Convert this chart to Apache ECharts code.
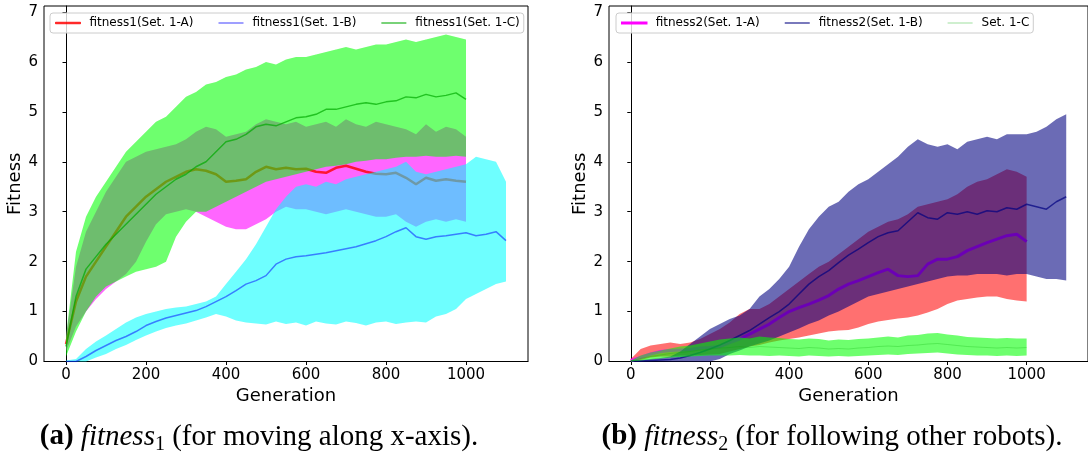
<!DOCTYPE html>
<html>
<head>
<meta charset="utf-8">
<script src="https://cdn.jsdelivr.net/npm/echarts@6/dist/echarts.min.js"></script>
<style>
  html, body { margin: 0; padding: 0; background: #fff; }
  #chart { width: 1088px; height: 462px; }
</style>
</head>
<body>
<div id="chart"></div>
<script>
// Generations sampled every 25 steps
const gens1000 = [0,25,50,75,100,125,150,175,200,225,250,275,300,325,350,375,400,425,450,475,500,525,550,575,600,625,650,675,700,725,750,775,800,825,850,875,900,925,950,975,1000];
const gens1100 = [0,25,50,75,100,125,150,175,200,225,250,275,300,325,350,375,400,425,450,475,500,525,550,575,600,625,650,675,700,725,750,775,800,825,850,875,900,925,950,975,1000,1025,1050,1075,1100];

const xTicks = [0, 200, 400, 600, 800, 1000];
const yTicks = [0, 1, 2, 3, 4, 5, 6, 7];

// fitness1 — Set. 1-A
const f1A_mean = [0.35,1.2,1.7,2.0,2.3,2.6,2.9,3.1,3.3,3.45,3.6,3.7,3.8,3.85,3.82,3.75,3.6,3.62,3.65,3.8,3.9,3.85,3.88,3.85,3.86,3.8,3.78,3.88,3.92,3.86,3.8,3.76,3.75,3.78,3.68,3.55,3.68,3.62,3.65,3.62,3.6];
const f1A_low  = [0.2,0.7,1.0,1.25,1.45,1.6,1.75,2.0,2.4,2.75,2.95,3.0,3.05,3.0,2.9,2.8,2.7,2.65,2.65,2.75,2.85,3.0,3.1,3.05,3.05,3.0,2.95,3.0,3.05,3.0,2.95,2.9,2.9,2.95,2.8,2.7,2.8,2.85,2.8,2.85,2.8];
const f1A_up   = [0.5,1.9,2.6,3.0,3.4,3.7,4.0,4.1,4.2,4.25,4.3,4.35,4.45,4.6,4.7,4.65,4.5,4.55,4.6,4.75,4.85,4.8,4.75,4.8,4.7,4.75,4.8,4.7,4.85,4.75,4.7,4.8,4.75,4.7,4.65,4.55,4.75,4.6,4.7,4.65,4.5];

// fitness1 — Set. 1-B
const f1B_mean = [0.0,0.0,0.1,0.22,0.32,0.42,0.5,0.6,0.72,0.8,0.87,0.92,0.97,1.02,1.1,1.2,1.3,1.42,1.55,1.62,1.72,1.95,2.05,2.1,2.12,2.15,2.18,2.22,2.26,2.3,2.36,2.42,2.5,2.6,2.68,2.5,2.45,2.5,2.52,2.55,2.58,2.52,2.55,2.6,2.42];
const f1B_low  = [0,0,0,0.08,0.15,0.25,0.33,0.43,0.52,0.6,0.67,0.72,0.76,0.82,0.88,0.95,0.9,0.82,0.78,0.76,0.74,0.8,0.75,0.78,0.72,0.8,0.76,0.74,0.8,0.77,0.72,0.78,0.8,0.75,0.78,0.8,0.78,0.9,0.95,1.05,1.25,1.35,1.45,1.55,1.6];
const f1B_up   = [0.02,0.05,0.25,0.4,0.52,0.65,0.78,0.88,0.95,1.0,1.05,1.08,1.1,1.15,1.2,1.3,1.55,1.8,2.05,2.35,2.7,3.05,3.3,3.5,3.55,3.5,3.6,3.55,3.65,3.7,3.75,3.8,3.85,3.9,4.0,3.8,3.75,3.8,3.85,3.9,3.95,4.1,4.05,4.0,3.6];

// fitness1 — Set. 1-C
const f1C_mean = [0.3,1.3,1.85,2.1,2.35,2.55,2.75,2.95,3.15,3.35,3.5,3.65,3.75,3.9,4.0,4.2,4.4,4.45,4.55,4.7,4.75,4.72,4.8,4.88,4.9,4.95,5.05,5.05,5.1,5.15,5.18,5.15,5.2,5.22,5.3,5.28,5.35,5.3,5.33,5.38,5.25];
const f1C_low  = [0.1,0.6,1.0,1.3,1.5,1.6,1.7,1.8,1.85,1.9,2.0,2.5,2.8,3.0,3.0,3.1,3.2,3.3,3.4,3.5,3.6,3.65,3.7,3.75,3.8,3.85,3.9,3.92,3.95,4.0,4.02,4.05,4.05,4.08,4.1,4.1,4.12,4.1,4.1,4.12,4.1];
const f1C_up   = [0.5,2.2,2.9,3.3,3.6,3.9,4.2,4.4,4.6,4.8,4.9,5.1,5.3,5.4,5.55,5.6,5.7,5.75,5.85,5.9,6.0,5.95,6.05,6.1,6.1,6.15,6.2,6.25,6.3,6.25,6.3,6.35,6.35,6.4,6.45,6.4,6.45,6.5,6.55,6.5,6.45];

// fitness2 — Set. 1-A
const f2A_mean = [0.02,0.08,0.15,0.2,0.22,0.23,0.24,0.27,0.28,0.3,0.38,0.45,0.55,0.65,0.75,0.88,1.0,1.08,1.15,1.23,1.32,1.45,1.55,1.62,1.7,1.78,1.85,1.72,1.7,1.72,1.95,2.05,2.05,2.1,2.22,2.3,2.38,2.45,2.52,2.55,2.4];
const f2A_low  = [0.0,0.03,0.08,0.1,0.1,0.12,0.12,0.13,0.14,0.15,0.2,0.25,0.3,0.33,0.38,0.42,0.45,0.48,0.52,0.56,0.6,0.62,0.63,0.68,0.75,0.8,0.83,0.86,0.88,0.92,0.98,1.05,1.15,1.22,1.25,1.28,1.3,1.3,1.25,1.22,1.2];
const f2A_up   = [0.05,0.25,0.32,0.35,0.38,0.35,0.38,0.45,0.55,0.65,0.78,0.95,1.05,1.05,1.15,1.3,1.45,1.6,1.75,1.9,2.0,2.15,2.3,2.45,2.6,2.7,2.8,2.85,2.95,3.1,3.15,3.2,3.25,3.35,3.5,3.6,3.65,3.75,3.85,3.8,3.7];

// fitness2 — Set. 1-B
const f2B_mean = [0.01,0.01,0.02,0.03,0.04,0.07,0.12,0.18,0.25,0.33,0.42,0.52,0.62,0.75,0.88,1.0,1.15,1.35,1.55,1.7,1.82,1.98,2.13,2.25,2.38,2.5,2.58,2.62,2.8,2.98,2.88,2.85,2.98,2.95,3.0,2.95,3.02,3.0,3.08,3.05,3.15,3.1,3.05,3.2,3.3];
const f2B_low  = [0,0,0,0,0,0,0,0,0,0.05,0.15,0.22,0.3,0.36,0.42,0.5,0.58,0.66,0.75,0.82,0.92,1.0,1.1,1.2,1.3,1.35,1.4,1.45,1.5,1.55,1.6,1.65,1.7,1.72,1.72,1.75,1.75,1.75,1.72,1.75,1.75,1.7,1.65,1.65,1.62];
const f2B_up   = [0.02,0.03,0.05,0.07,0.1,0.2,0.35,0.5,0.65,0.75,0.85,0.92,1.05,1.3,1.45,1.65,1.9,2.3,2.65,2.9,3.1,3.2,3.4,3.55,3.65,3.8,3.95,4.1,4.3,4.45,4.35,4.3,4.35,4.25,4.4,4.45,4.5,4.45,4.55,4.55,4.55,4.6,4.7,4.85,4.95];

// Set. 1-C (fitness2)
const f2C_mean = [0.01,0.06,0.1,0.13,0.16,0.18,0.2,0.23,0.25,0.27,0.28,0.3,0.28,0.3,0.29,0.28,0.27,0.26,0.28,0.27,0.25,0.26,0.25,0.27,0.28,0.3,0.31,0.3,0.32,0.33,0.35,0.36,0.34,0.32,0.3,0.29,0.28,0.27,0.28,0.27,0.28];
const f2C_low  = [0.0,0.02,0.04,0.06,0.08,0.09,0.1,0.11,0.12,0.12,0.12,0.13,0.12,0.12,0.11,0.12,0.11,0.1,0.12,0.11,0.1,0.11,0.1,0.11,0.12,0.13,0.14,0.13,0.15,0.16,0.17,0.18,0.16,0.14,0.13,0.12,0.12,0.11,0.12,0.11,0.12];
const f2C_up   = [0.02,0.12,0.18,0.22,0.26,0.3,0.32,0.36,0.4,0.44,0.46,0.48,0.46,0.5,0.48,0.47,0.45,0.44,0.46,0.45,0.42,0.44,0.43,0.45,0.46,0.48,0.5,0.48,0.52,0.53,0.56,0.57,0.54,0.52,0.49,0.48,0.47,0.46,0.47,0.46,0.46];

const FONT = 'DejaVu Sans';
const SERIF = 'Liberation Serif';

// Shaded spread between the lower and upper curves, drawn as one polygon
function band(axis, gens, low, up, fill) {
  return {
    type: 'custom', xAxisIndex: axis, yAxisIndex: axis, silent: true,
    data: gens.map((g, i) => [g, low[i], up[i]]),
    encode: { x: 0, y: [1, 2] },
    renderItem: function (params, api) {
      if (params.dataIndex !== 0) return null;
      const pts = [];
      for (let i = 0; i < gens.length; i++) pts.push(api.coord([gens[i], up[i]]));
      for (let i = gens.length - 1; i >= 0; i--) pts.push(api.coord([gens[i], low[i]]));
      return { type: 'polygon', shape: { points: pts }, style: { fill: fill, stroke: null } };
    }
  };
}

function meanLine(name, axis, gens, mean, color, width) {
  return {
    type: 'line', name: name, xAxisIndex: axis, yAxisIndex: axis,
    symbol: 'none', silent: true, animation: false,
    data: gens.map((g, i) => [g, mean[i]]),
    itemStyle: { color: color },
    lineStyle: { color: color, width: width }
  };
}

const C = {
  f1A: 'rgba(255,0,0,0.8)',
  f1B: 'rgba(0,0,255,0.5)',
  f1C: 'rgba(0,170,0,0.7)',
  f2A: '#ff00ff',
  f2B: 'rgba(0,0,128,0.7)',
  f2C: 'rgba(0,170,0,0.25)'
};

const series = [
  band(0, gens1000, f1A_low, f1A_up, 'rgba(255,0,255,0.6)'),
  meanLine('fitness1(Set. 1-A)', 0, gens1000, f1A_mean, C.f1A, 2.5),
  band(0, gens1100, f1B_low, f1B_up, 'rgba(0,255,255,0.57)'),
  meanLine('fitness1(Set. 1-B)', 0, gens1100, f1B_mean, C.f1B, 1.5),
  band(0, gens1000, f1C_low, f1C_up, 'rgba(0,255,0,0.57)'),
  meanLine('fitness1(Set. 1-C)', 0, gens1000, f1C_mean, C.f1C, 1.5),

  band(1, gens1000, f2A_low, f2A_up, 'rgba(255,0,0,0.56)'),
  meanLine('fitness2(Set. 1-A)', 1, gens1000, f2A_mean, C.f2A, 3),
  band(1, gens1100, f2B_low, f2B_up, 'rgba(0,0,128,0.58)'),
  meanLine('fitness2(Set. 1-B)', 1, gens1100, f2B_mean, C.f2B, 1.5),
  band(1, gens1000, f2C_low, f2C_up, 'rgba(0,255,0,0.57)'),
  meanLine('Set. 1-C', 1, gens1000, f2C_mean, C.f2C, 1)
];
// paint strictly in declaration order: each band, then its mean line
series.forEach((s, k) => { s.z = 2; s.z2 = k; s.zlevel = 0; s.z = 2 + k * 0.01; });

const plain = v => String(v);

function xAxis(idx) {
  return {
    type: 'value', gridIndex: idx, min: -55, max: 1155,
    name: 'Generation', nameLocation: 'middle', nameGap: 21,
    nameTextStyle: { fontFamily: FONT, fontSize: 18, color: '#000' },
    axisLine: { show: true, lineStyle: { color: '#000', width: 1 } },
    axisTick: { show: true, customValues: xTicks, length: 3.5, lineStyle: { color: '#000' } },
    axisLabel: { customValues: xTicks, formatter: plain, fontFamily: FONT, fontSize: 15, color: '#000', margin: 6 },
    splitLine: { show: false }
  };
}
function yAxis(idx) {
  return {
    type: 'value', gridIndex: idx, min: 0, max: 7.12,
    name: 'Fitness', nameLocation: 'middle', nameGap: 20,
    nameTextStyle: { fontFamily: FONT, fontSize: 18, color: '#000' },
    axisLine: { show: true, lineStyle: { color: '#000', width: 1 } },
    axisTick: { show: true, customValues: yTicks, length: 3.5, lineStyle: { color: '#000' } },
    axisLabel: { customValues: yTicks, formatter: plain, fontFamily: FONT, fontSize: 15, color: '#000', margin: 6 },
    splitLine: { show: false }
  };
}

function legend(left, items) {
  return {
    left: left, top: 13, orient: 'horizontal', selectedMode: false, z: 10,
    icon: 'rect', itemWidth: 25, itemHeight: 1.5, itemGap: 25,
    padding: [4, 4, 4, 5],
    backgroundColor: 'rgba(255,255,255,0.8)', borderColor: '#cccccc', borderWidth: 1, borderRadius: 3,
    textStyle: { fontFamily: FONT, fontSize: 12, color: '#000', padding: [0, 0, 0, 4] },
    data: items.map(it => ({
      name: it[0],
      itemStyle: { color: it[1], borderColor: it[1], borderWidth: it[2] }
    }))
  };
}

const rich = {
  b: { fontFamily: SERIF, fontSize: 29, fontWeight: 'bold', lineHeight: 36 },
  i: { fontFamily: SERIF, fontSize: 29, fontStyle: 'italic', lineHeight: 36 },
  s: { fontFamily: SERIF, fontSize: 20, lineHeight: 36, verticalAlign: 'bottom' },
  r: { fontFamily: SERIF, fontSize: 29, lineHeight: 36 }
};

const option = {
  animation: false,
  backgroundColor: '#ffffff',
  grid: [
    { left: 44, top: 6, width: 484, height: 355.5, show: true, borderColor: '#000', borderWidth: 1, backgroundColor: 'transparent' },
    { left: 609, top: 6, width: 483, height: 355.5, show: true, borderColor: '#000', borderWidth: 1, backgroundColor: 'transparent' }
  ],
  xAxis: [xAxis(0), xAxis(1)],
  yAxis: [yAxis(0), yAxis(1)],
  legend: [
    legend(50, [['fitness1(Set. 1-A)', C.f1A, 1], ['fitness1(Set. 1-B)', C.f1B, 0], ['fitness1(Set. 1-C)', C.f1C, 0]]),
    legend(616, [['fitness2(Set. 1-A)', C.f2A, 1.5], ['fitness2(Set. 1-B)', C.f2B, 0], ['Set. 1-C', C.f2C, 0]])
  ],
  graphic: [
    {
      type: 'text', x: 259, y: 437,
      style: {
        text: '{b|(a)}{r| }{i|fitness}{s|1}{r| (for moving along x-axis).}',
        rich: rich, align: 'center', verticalAlign: 'middle', fill: '#000'
      }
    },
    {
      type: 'text', x: 832, y: 437,
      style: {
        text: '{b|(b)}{r| }{i|fitness}{s|2}{r| (for following other robots).}',
        rich: rich, align: 'center', verticalAlign: 'middle', fill: '#000'
      }
    }
  ],
  series: series
};

const chart = echarts.init(document.getElementById('chart'), null, { renderer: 'canvas' });
chart.setOption(option);
</script>
</body>
</html>
